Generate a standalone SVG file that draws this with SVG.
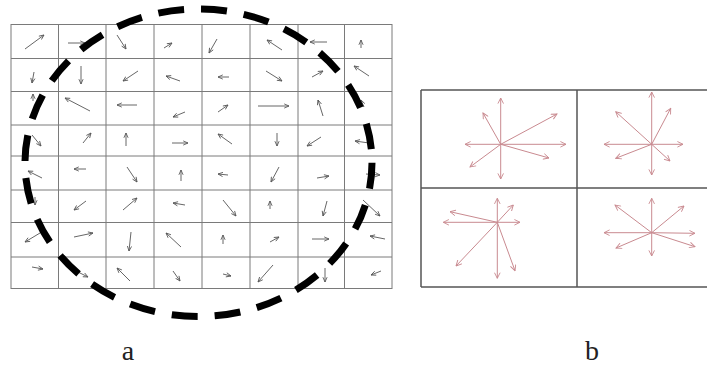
<svg xmlns="http://www.w3.org/2000/svg" width="707" height="367" viewBox="0 0 707 367">
<style>
.grid{stroke:#7a7a7a;stroke-width:1;fill:none}
.ga{stroke:#555;stroke-width:0.9;fill:none;marker-end:url(#ah)}
.ra{stroke:#c98a90;stroke-width:1;fill:none;marker-end:url(#ahr)}
.frame{stroke:#555;stroke-width:1.5;fill:none}
.lbl{font-family:"Liberation Serif","Times New Roman",serif;font-size:28px;fill:#222}
</style>
<defs>
<marker id="ah" viewBox="0 0 10 10" refX="9" refY="5" markerWidth="6" markerHeight="6" orient="auto" markerUnits="userSpaceOnUse">
<path d="M1,1.5 L9,5 L1,8.5" fill="none" stroke="#555" stroke-width="1.4"/>
</marker>
<marker id="ahr" viewBox="0 0 10 10" refX="9" refY="5" markerWidth="7" markerHeight="7" orient="auto" markerUnits="userSpaceOnUse">
<path d="M1,1 L9,5 L1,9" fill="none" stroke="#c98a90" stroke-width="1.3"/>
</marker>
</defs>
<rect width="707" height="367" fill="#fff"/>
<g id="panel-a">
<g class="grid">
<rect x="11" y="24.5" width="381" height="264"/>
<path d="M58.5,24.5V288.5M106,24.5V288.5M154,24.5V288.5M202,24.5V288.5M250,24.5V288.5M298,24.5V288.5M344.5,24.5V288.5"/>
<path d="M11,58.5H392M11,91.5H392M11,125H392M11,156H392M11,190H392M11,222.5H392M11,257H392"/>
</g>
<g id="flow-arrows">
<path class="ga" d="M25,49L44,35"/><path class="ga" d="M68,43L85,43"/><path class="ga" d="M117,35L126,49"/><path class="ga" d="M164,48L172,43"/><path class="ga" d="M217,39L209,53"/><path class="ga" d="M282,50L267,40"/><path class="ga" d="M327,42L310,42"/><path class="ga" d="M361,48L361,40"/>
<path class="ga" d="M34,72L32,83"/><path class="ga" d="M81,66L81,84"/><path class="ga" d="M138,71L123,81"/><path class="ga" d="M180,81L166,76"/><path class="ga" d="M229,77L218,77"/><path class="ga" d="M266,71L282,81"/><path class="ga" d="M312,77L323,71"/><path class="ga" d="M369,76L354,66"/>
<path class="ga" d="M33,101L33,94"/><path class="ga" d="M90,111L65,98"/><path class="ga" d="M137,105L117,105"/><path class="ga" d="M185,112L173,117"/><path class="ga" d="M218,112L228,105"/><path class="ga" d="M258,106L289,106"/><path class="ga" d="M323,116L318,100"/><path class="ga" d="M364,107L361,100"/>
<path class="ga" d="M32,135L41,146"/><path class="ga" d="M83,143L91,133"/><path class="ga" d="M126,146L126,133"/><path class="ga" d="M172,143L188,143"/><path class="ga" d="M232,144L218,134"/><path class="ga" d="M277,133L277,146"/><path class="ga" d="M321,137L307,146"/><path class="ga" d="M369,143L355,141"/>
<path class="ga" d="M42,178L28,171"/><path class="ga" d="M86,169L74,169"/><path class="ga" d="M127,167L137,182"/><path class="ga" d="M181,181L181,170"/><path class="ga" d="M228,175L218,174"/><path class="ga" d="M279,167L271,182"/><path class="ga" d="M317,178L329,176"/><path class="ga" d="M366,174L380,175"/>
<path class="ga" d="M35,197L35,205"/><path class="ga" d="M86,201L74,210"/><path class="ga" d="M123,210L137,198"/><path class="ga" d="M185,205L173,203"/><path class="ga" d="M223,200L236,216"/><path class="ga" d="M270,209L270,201"/><path class="ga" d="M327,201L323,216"/><path class="ga" d="M363,200L380,216"/>
<path class="ga" d="M40,233L25,242"/><path class="ga" d="M74,237L93,233"/><path class="ga" d="M131,232L129,251"/><path class="ga" d="M181,247L166,233"/><path class="ga" d="M223,244L223,235"/><path class="ga" d="M270,242L279,237"/><path class="ga" d="M312,239L329,239"/><path class="ga" d="M385,239L370,236"/>
<path class="ga" d="M32,267L43,269"/><path class="ga" d="M74,270L88,277"/><path class="ga" d="M130,281L117,268"/><path class="ga" d="M173,271L180,281"/><path class="ga" d="M223,274L231,276"/><path class="ga" d="M273,265L258,282"/><path class="ga" d="M325,268L325,282"/><path class="ga" d="M381,271L371,275"/>
</g>
<ellipse id="region" cx="198.5" cy="162.75" rx="173.5" ry="153.75" fill="none" stroke="#000" stroke-width="7" stroke-dasharray="26 17"/>
<text class="lbl" x="128" y="360" text-anchor="middle">a</text>
</g>
<g id="panel-b">
<path class="frame" d="M421,90H708M421,188H708M421,287H708M421,90V287M577,90V287"/>
<g id="hist-tl">
<path class="ra" d="M500.7,144.3L500.7,98"/><path class="ra" d="M500.7,144.3L483,113"/><path class="ra" d="M500.7,144.3L557,114"/><path class="ra" d="M500.7,144.3L465,144.3"/><path class="ra" d="M500.7,144.3L566,144.3"/><path class="ra" d="M500.7,144.3L549,158"/><path class="ra" d="M500.7,144.3L470,167"/><path class="ra" d="M500.7,144.3L500.7,179"/>
</g>
<g id="hist-tr">
<path class="ra" d="M651.7,144.3L651.7,92"/><path class="ra" d="M651.7,144.3L615.7,111.7"/><path class="ra" d="M651.7,144.3L670.7,108.3"/><path class="ra" d="M651.7,144.3L604,144.3"/><path class="ra" d="M651.7,144.3L683,144.3"/><path class="ra" d="M651.7,144.3L615.7,158.3"/><path class="ra" d="M651.7,144.3L670,161"/><path class="ra" d="M651.7,144.3L651.7,175"/>
</g>
<g id="hist-bl">
<path class="ra" d="M497.3,222.3L497.3,198.3"/><path class="ra" d="M497.3,222.3L513.3,205"/><path class="ra" d="M497.3,222.3L450,211.7"/><path class="ra" d="M497.3,222.3L443.3,222.3"/><path class="ra" d="M497.3,222.3L520,222.3"/><path class="ra" d="M497.3,222.3L456,266"/><path class="ra" d="M497.3,222.3L497.3,278.3"/><path class="ra" d="M497.3,222.3L515,270.7"/>
</g>
<g id="hist-br">
<path class="ra" d="M651.7,232.7L651.7,198.3"/><path class="ra" d="M651.7,232.7L615,205"/><path class="ra" d="M651.7,232.7L684,206"/><path class="ra" d="M651.7,232.7L604,232.7"/><path class="ra" d="M651.7,232.7L695,233.3"/><path class="ra" d="M651.7,232.7L695,246.7"/><path class="ra" d="M651.7,232.7L616,248"/><path class="ra" d="M651.7,232.7L651.7,256"/>
</g>
<text class="lbl" x="592" y="360" text-anchor="middle">b</text>
</g>
</svg>
